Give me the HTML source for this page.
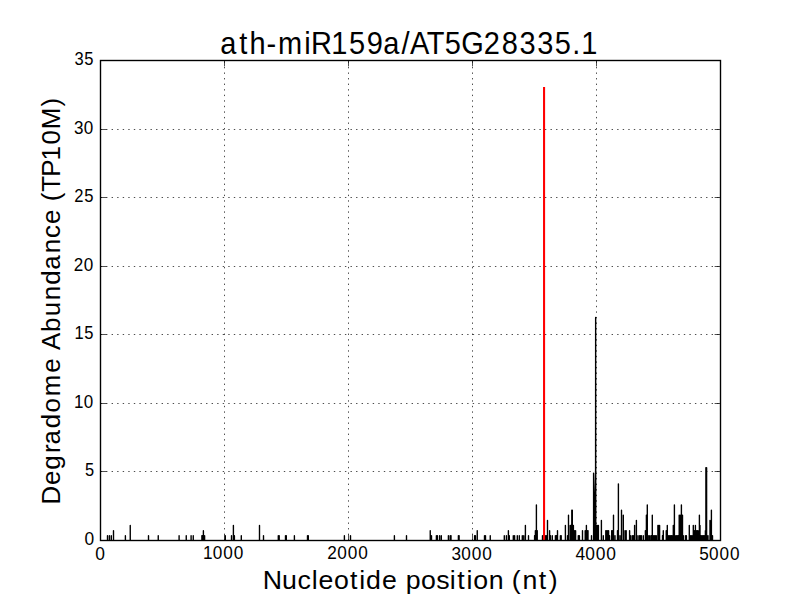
<!DOCTYPE html><html><head><meta charset="utf-8"><style>html,body{margin:0;padding:0;background:#fff;width:800px;height:600px;overflow:hidden}svg{display:block}text{font-family:"Liberation Sans",sans-serif;fill:#000}</style></head><body><svg width="800" height="600" viewBox="0 0 800 600"><rect width="800" height="600" fill="#fff"/><path d="M224.5 540.55V60M348.5 540.55V60M472.5 540.55V60M596.5 540.55V60M100.5 471.5H720M100.5 403.5H720M100.5 334.5H720M100.5 266.5H720M100.5 197.5H720M100.5 129.5H720" stroke="#000" stroke-width="0.7" stroke-dasharray="1.3889 4.1667" fill="none"/><path d="M107.5 540V535.78M109.4 540V535.78M111.3 540V535.78M113.5 540V530.66M125.4 540V535.78M130.25 540V525.54M148.5 540V535.78M158.25 540V535.78M179.1 540V535.78M186.25 540V535.78M191.1 540V535.78M193.25 540V535.78M201.9 540V535.78M202.6 540V535.78M203.4 540V530.66M204.6 540V535.78M225.3 540V535.78M231.5 540V535.78M233.4 540V525.54M234.4 540V535.78M241.3 540V535.78M259.5 540V525.54M263.5 540V535.78M278.3 540V535.78M279.2 540V535.78M285.5 540V535.78M286.3 540V535.78M294.4 540V535.78M307.5 540V535.78M308.3 540V535.78M344.4 540V535.78M350.5 540V535.78M394.4 540V535.78M406.5 540V535.78M430.25 540V530.66M431.5 540V535.78M436.4 540V535.78M437.4 540V535.78M439.6 540V535.78M441.3 540V535.78M448.4 540V535.78M450.2 540V535.78M451.0 540V535.78M458.4 540V535.78M459.1 540V535.78M474.6 540V535.78M475.4 540V535.78M477.25 540V530.66M484.5 540V535.78M485.5 540V535.78M490.25 540V535.78M504.3 540V535.78M506.4 540V535.78M508.4 540V530.66M509.3 540V535.78M513.3 540V535.78M514.6 540V535.78M517.3 540V535.78M519.3 540V535.78M522.3 540V535.78M523.75 540V535.78M525.4 540V525.54M528.5 540V535.78M534.6 540V535.78M535.4 540V530.66M536.4 540V505.06M537.25 540V530.66M542.5 540V535.78M545.6 540V535.78M546.4 540V535.78M547.5 540V520.42M549.6 540V530.66M550.4 540V535.78M552.3 540V535.78M555.4 540V535.78M556.2 540V535.78M556.7 540V535.78M557.5 540V530.66M560.4 540V535.78M561.2 540V535.78M565.4 540V525.54M567.5 540V535.78M568.5 540V515.30M570.2 540V525.54M571.0 540V525.54M571.8 540V510.18M572.3 540V510.18M572.6 540V525.54M573.4 540V525.54M574.6 540V530.66M575.6 540V530.66M578.3 540V535.78M579.4 540V535.78M582.5 540V530.66M585.2 540V530.66M586.4 540V525.54M587.2 540V530.66M588.0 540V530.66M591.5 540V535.78M593.6 540V473.10M596.5 540V525.54M597.5 540V525.54M598.4 540V525.54M601.4 540V520.42M603.3 540V535.78M605.8 540V530.66M606.8 540V530.66M607.8 540V530.66M608.6 540V530.66M609.6 540V535.78M611.7 540V530.66M612.5 540V530.66M613.5 540V515.30M615.0 540V535.78M617.5 540V530.66M618.4 540V483.85M620.0 540V535.78M621.5 540V510.18M623.3 540V515.30M625.0 540V530.66M626.2 540V530.66M629.6 540V530.66M630.8 540V535.78M632.5 540V535.78M633.3 540V535.78M634.6 540V525.54M636.4 540V520.42M638.0 540V535.78M639.6 540V535.78M640.4 540V535.78M641.4 540V535.78M643.3 540V535.78M645.4 540V530.66M646.4 540V515.30M647.3 540V505.06M648.75 540V535.78M650.0 540V535.78M651.5 540V535.78M652.3 540V515.30M653.3 540V535.78M654.3 540V535.78M655.3 540V535.78M656.3 540V535.78M657.9 540V525.54M658.8 540V525.54M659.6 540V525.54M662.5 540V535.78M663.3 540V530.66M666.25 540V530.66M667.3 540V525.54M668.3 540V535.78M669.3 540V535.78M670.3 540V535.78M671.3 540V535.78M672.0 540V535.78M673.3 540V525.54M674.4 540V505.06M675.8 540V535.78M676.6 540V535.78M677.4 540V535.78M678.3 540V535.78M679.2 540V515.30M680.1 540V515.30M681.4 540V505.06M682.5 540V515.30M683.3 540V535.78M685.4 540V535.78M686.4 540V535.78M689.3 540V525.54M690.0 540V535.78M691.0 540V535.78M692.0 540V535.78M692.9 540V535.78M693.3 540V525.54M694.2 540V530.66M695.4 540V525.54M696.2 540V530.66M697.2 540V530.66M698.0 540V530.66M699.4 540V515.30M700.0 540V525.54M700.8 540V535.78M701.8 540V535.78M702.8 540V535.78M703.6 540V535.78M704.2 540V535.78M705.4 540V530.66M705.9 540V467.80M706.6 540V467.80M707.2 540V535.78M708.0 540V535.78M710.0 540V520.42M711.4 540V510.18M712.5 540V535.78M594.4 540L594.4 500L595.0 493L595.6 473L595.65 317.4L595.75 540" stroke="#000" stroke-width="1.39" stroke-linecap="round" stroke-linejoin="round" fill="none"/><path d="M544.06 540V86.9" stroke="#f00" stroke-width="2.08" fill="none"/><path d="M100.5 540.5v-5.9M100.5 60.5v5.9M224.5 540.5v-5.9M224.5 60.5v5.9M348.5 540.5v-5.9M348.5 60.5v5.9M472.5 540.5v-5.9M472.5 60.5v5.9M596.5 540.5v-5.9M596.5 60.5v5.9M720.5 540.5v-5.9M720.5 60.5v5.9M100.5 540.5h5.9M720.5 540.5h-5.9M100.5 471.5h5.9M720.5 471.5h-5.9M100.5 403.5h5.9M720.5 403.5h-5.9M100.5 334.5h5.9M720.5 334.5h-5.9M100.5 266.5h5.9M720.5 266.5h-5.9M100.5 197.5h5.9M720.5 197.5h-5.9M100.5 129.5h5.9M720.5 129.5h-5.9M100.5 60.5h5.9M720.5 60.5h-5.9" stroke="#000" stroke-width="0.69" fill="none"/><rect x="100.5" y="60.5" width="620" height="480" fill="none" stroke="#000" stroke-width="1.39"/><text transform="scale(1.0436 1.0683)" x="80.98" y="510.17" font-size="16.667">0</text><text transform="scale(0.9849 1.0651)" x="86.36" y="447.32" font-size="16.667">5</text><text transform="scale(1.0202 1.0683)" x="72.57 82.21" y="381.79" font-size="16.667">10</text><text transform="scale(0.9908 1.0651)" x="75.21 85.06" y="318.55" font-size="16.667">15</text><text transform="scale(1.0248 1.0683)" x="72.09 81.82" y="253.41" font-size="16.667">20</text><text transform="scale(0.9954 1.0651)" x="74.70 84.65" y="189.79" font-size="16.667">25</text><text transform="scale(1.0229 1.0683)" x="72.47 81.97" y="125.03" font-size="16.667">30</text><text transform="scale(0.9936 1.0683)" x="75.09 84.82" y="60.85" font-size="16.667">35</text><text transform="scale(1.0436 1.0683)" x="91.19" y="523.74" font-size="16.667">0</text><text transform="scale(1.0319 1.0683)" x="196.75 206.28 216.45 226.63" y="523.74" font-size="16.667">1000</text><text transform="scale(1.0342 1.0683)" x="316.37 326.01 336.16 346.31" y="523.74" font-size="16.667">2000</text><text transform="scale(1.0333 1.0683)" x="436.87 446.29 456.45 466.61" y="523.74" font-size="16.667">3000</text><text transform="scale(1.0436 1.0683)" x="551.50 560.84 570.90 580.96" y="523.74" font-size="16.667">4000</text><text transform="scale(1.0289 1.0683)" x="679.67 689.21 699.41 709.61" y="523.74" font-size="16.667">5000</text><text transform="scale(1.0442 1.1001)" x="210.92 229.11 238.99 255.33 266.24 291.34 297.77 317.24 334.23 351.20 366.93 384.45 392.64 408.61 425.87 441.69 463.22 480.52 497.51 514.46 531.28 547.95 556.66" y="48.99" font-size="27.778">ath-miR159a/AT5G28335.1</text><text transform="scale(1.0695 1.0485)" x="245.59 263.79 278.11 291.55 297.88 312.20 327.36 335.97 342.32 357.14 371.24 379.30 393.75 407.87 420.54 427.61 436.22 442.45 457.08 471.39 478.60 488.48 503.85 513.02" y="561.55" font-size="25.000">Nucleotide position (nt)</text><g transform="translate(60.0,502.4) rotate(-90)"><text transform="scale(1.0350 1.0481)" x="-2.05 16.76 31.65 47.70 55.90 71.72 86.93 102.68 125.32 139.66 147.25 164.73 179.84 195.26 210.38 224.69 240.70 255.36 269.06 283.40 290.99 300.25 314.60 330.42 345.91 360.57 382.58" y="0.00" font-size="25.000">Degradome Abundance (TP10M)</text></g></svg></body></html>
